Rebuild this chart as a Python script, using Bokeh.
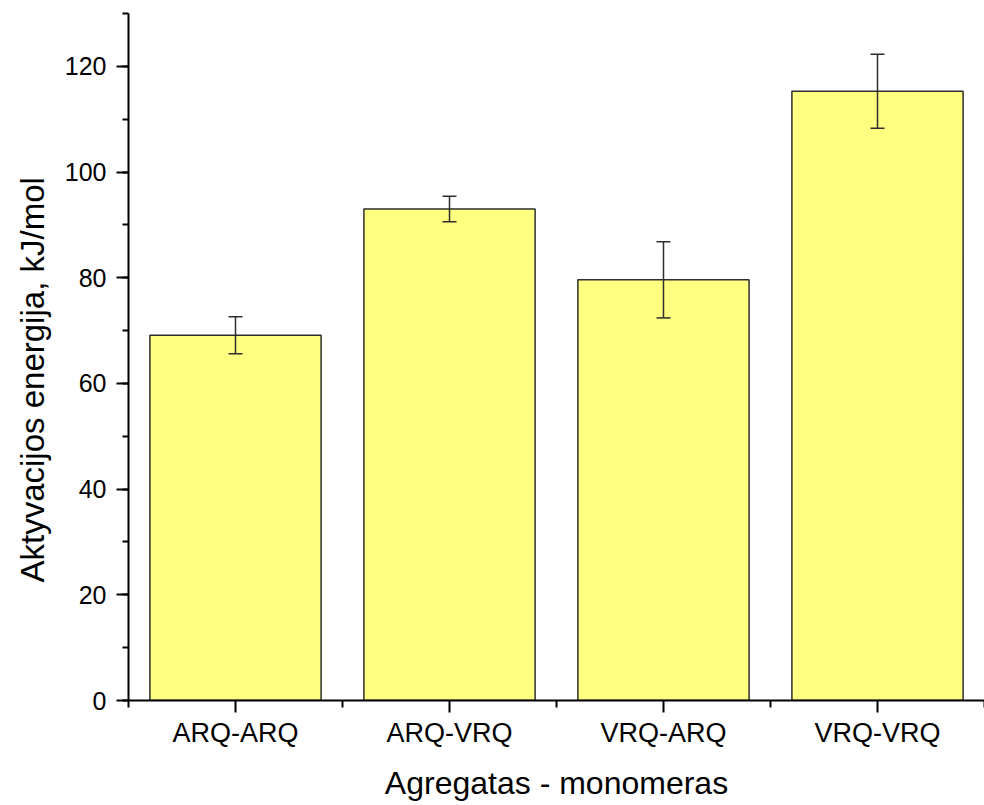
import numpy as np
from bokeh.plotting import figure
from bokeh.models import ColumnDataSource, Range1d, FixedTicker, Whisker, TeeHead, Title
from bokeh.embed import file_html
from bokeh.resources import INLINE

categories = ["ARQ-ARQ", "ARQ-VRQ", "VRQ-ARQ", "VRQ-VRQ"]
energy = [69.1, 93.0, 79.6, 115.3]
errors = [3.5, 2.4, 7.2, 7.0]
y_ticks = [0, 20, 40, 60, 80, 100, 120]

x = list(range(1, len(categories) + 1))
src = ColumnDataSource(dict(
    x=x,
    top=energy,
    upper=[v + e for v, e in zip(energy, errors)],
    lower=[v - e for v, e in zip(energy, errors)],
))

FONT = "Liberation Sans"

p = figure(width=984, height=805, output_backend="svg", toolbar_location=None,
           x_range=Range1d(0.5, len(categories) + 0.5), y_range=Range1d(0, 130),
           min_border_left=128, min_border_right=0, min_border_top=13,
           min_border_bottom=105)
p.outline_line_color = None
p.xgrid.visible = False
p.ygrid.visible = False
p.background_fill_color = "white"
p.border_fill_color = "white"

p.vbar(x="x", top="top", width=0.8, source=src, fill_color="#FFFF80",
       line_color="#2e2e2e", line_width=1.5)

w = Whisker(source=src, base="x", upper="upper", lower="lower",
            line_color="#2e2e2e", line_width=1.5, level="overlay",
            upper_head=TeeHead(size=14, line_color="#2e2e2e", line_width=1.5),
            lower_head=TeeHead(size=14, line_color="#2e2e2e", line_width=1.5))
p.add_layout(w)

# x axis
xa = p.xaxis[0]
xa.ticker = FixedTicker(ticks=x, minor_ticks=[i + 0.5 for i in range(0, len(categories) + 1)])
xa.major_label_overrides = {i: c for i, c in zip(x, categories)}
xa.axis_label = "Agregatas - monomeras"

ya = p.yaxis[0]
ya.ticker = FixedTicker(ticks=y_ticks, minor_ticks=list(range(0, 131, 10)))

ylab = Title(text="Aktyvacijos energija, kJ/mol", align="left", offset=118,
             standoff=22, text_font=FONT, text_font_size="33px",
             text_font_style="normal", text_color="black")
p.add_layout(ylab, "left")

for ax in (xa, ya):
    ax.axis_line_color = "black"
    ax.axis_line_width = 2
    ax.major_tick_line_color = "black"
    ax.major_tick_line_width = 2
    ax.minor_tick_line_color = "black"
    ax.minor_tick_line_width = 2
    ax.major_tick_in = 0
    ax.minor_tick_in = 0
    ax.major_tick_out = 12
    ax.major_label_text_font = FONT
    ax.major_label_text_color = "black"
    ax.axis_label_text_font = FONT
    ax.axis_label_text_font_size = "32px"
    ax.axis_label_text_font_style = "normal"
    ax.axis_label_text_color = "black"

xa.major_label_text_font_size = "27px"
ya.major_label_text_font_size = "25px"
xa.minor_tick_out = 7
ya.minor_tick_out = 6
xa.major_label_standoff = 5
ya.major_label_standoff = 10
xa.axis_label_standoff = 14

open("out.html", "w").write(file_html(p, INLINE))
